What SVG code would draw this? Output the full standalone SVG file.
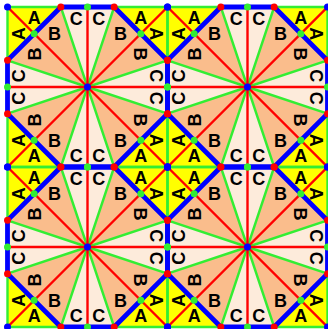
<svg xmlns="http://www.w3.org/2000/svg" width="328" height="329" viewBox="0 0 328 329">
<style>
.y{fill:#FFFF00}.o{fill:#FABD8C}.c{fill:#FDEBDB}
.g{stroke:#33EE33;stroke-width:2.4;fill:none}
.r{stroke:#FF0000;stroke-width:2.4;fill:none}
.b{stroke:#0000FF;stroke-width:4.8;fill:none;stroke-linejoin:round}
.db{fill:#0000FF}.dg{fill:#33EE33}.dr{fill:#FF0000}
text{font-family:"Liberation Sans",Arial,sans-serif;font-weight:bold;font-size:18px;text-anchor:middle;fill:#000}
</style>
<defs>
<g id="fills">
<rect class="c" width="160" height="160"/>
<path class="y" d="M0,0H53.333L0,53.333Z M160,0H106.667L160,53.333Z M160,160V106.667L106.667,160Z M0,160V106.667L53.333,160Z"/>
<path class="o" d="M80,80L53.333,0L0,53.333Z M80,80L106.667,0L160,53.333Z M80,80L160,106.667L106.667,160Z M80,80L53.333,160L0,106.667Z"/>
</g>
<g id="greens">
<path class="g" d="M0,0H160V160H0Z M80,80L53.333,0 M80,80L106.667,0 M80,80L160,53.333 M80,80L160,106.667 M80,80L106.667,160 M80,80L53.333,160 M80,80L0,106.667 M80,80L0,53.333"/>
</g>
<g id="reds"><path class="r" d="M80,0V160 M0,80H160 M0,0L160,160 M160,0L0,160"/></g>
<g id="blues"><path class="b" d="M53.333,0H106.667L160,53.333V106.667L106.667,160H53.333L0,106.667V53.333Z"/></g>
<g id="dots">
<circle class="db" cx="0" cy="0" r="3.5"/><circle class="db" cx="160" cy="0" r="3.5"/><circle class="db" cx="0" cy="160" r="3.5"/><circle class="db" cx="160" cy="160" r="3.5"/><circle class="db" cx="80" cy="80" r="3.5"/>
<circle class="dg" cx="80" cy="0" r="3.5"/><circle class="dg" cx="160" cy="80" r="3.5"/><circle class="dg" cx="80" cy="160" r="3.5"/><circle class="dg" cx="0" cy="80" r="3.5"/>
<circle class="dg" cx="26.667" cy="26.667" r="3.5"/><circle class="dg" cx="133.333" cy="26.667" r="3.5"/><circle class="dg" cx="133.333" cy="133.333" r="3.5"/><circle class="dg" cx="26.667" cy="133.333" r="3.5"/>
<circle class="dr" cx="53.333" cy="0" r="3.5"/><circle class="dr" cx="106.667" cy="0" r="3.5"/><circle class="dr" cx="160" cy="53.333" r="3.5"/><circle class="dr" cx="160" cy="106.667" r="3.5"/>
<circle class="dr" cx="106.667" cy="160" r="3.5"/><circle class="dr" cx="53.333" cy="160" r="3.5"/><circle class="dr" cx="0" cy="106.667" r="3.5"/><circle class="dr" cx="0" cy="53.333" r="3.5"/>
</g>
<g id="labels">
<text x="26.67" y="17.45">A</text><text x="68.83" y="17.57">C</text><text x="91.17" y="17.57">C</text><text x="133.33" y="17.45">A</text>
<text x="47.04" y="33.07">B</text><text x="112.96" y="33.07">B</text>
<text x="26.67" y="155.35">A</text><text x="68.83" y="155.23">C</text><text x="91.17" y="155.23">C</text><text x="133.33" y="155.35">A</text>
<text x="47.04" y="139.73">B</text><text x="112.96" y="139.73">B</text>
<text transform="translate(11.05,26.67) rotate(-90)" y="6.4">A</text>
<text transform="translate(11.17,68.83) rotate(-90)" y="6.4">C</text>
<text transform="translate(11.17,91.17) rotate(-90)" y="6.4">C</text>
<text transform="translate(11.05,133.33) rotate(-90)" y="6.4">A</text>
<text transform="translate(26.67,47.04) rotate(-90)" y="6.4">B</text>
<text transform="translate(26.67,112.96) rotate(-90)" y="6.4">B</text>
<text transform="translate(148.95,26.67) rotate(90)" y="6.4">A</text>
<text transform="translate(148.83,68.83) rotate(90)" y="6.4">C</text>
<text transform="translate(148.83,91.17) rotate(90)" y="6.4">C</text>
<text transform="translate(148.95,133.33) rotate(90)" y="6.4">A</text>
<text transform="translate(133.33,47.04) rotate(90)" y="6.4">B</text>
<text transform="translate(133.33,112.96) rotate(90)" y="6.4">B</text>
</g>
</defs>
<g id="fill-layer">
<use href="#fills" x="7.5" y="7"/><use href="#fills" x="167.5" y="7"/><use href="#fills" x="7.5" y="167"/><use href="#fills" x="167.5" y="167"/>
</g>
<g id="connectors">
<use href="#greens" x="7.5" y="7"/><use href="#greens" x="167.5" y="7"/><use href="#greens" x="7.5" y="167"/><use href="#greens" x="167.5" y="167"/>
<use href="#reds" x="7.5" y="7"/><use href="#reds" x="167.5" y="7"/><use href="#reds" x="7.5" y="167"/><use href="#reds" x="167.5" y="167"/>
<use href="#blues" x="7.5" y="7"/><use href="#blues" x="167.5" y="7"/><use href="#blues" x="7.5" y="167"/><use href="#blues" x="167.5" y="167"/>
</g>
<g id="nodes">
<use href="#dots" x="7.5" y="7"/><use href="#dots" x="167.5" y="7"/><use href="#dots" x="7.5" y="167"/><use href="#dots" x="167.5" y="167"/>
</g>
<g id="texts">
<use href="#labels" x="7.5" y="7"/><use href="#labels" x="167.5" y="7"/><use href="#labels" x="7.5" y="167"/><use href="#labels" x="167.5" y="167"/>
</g>
</svg>
